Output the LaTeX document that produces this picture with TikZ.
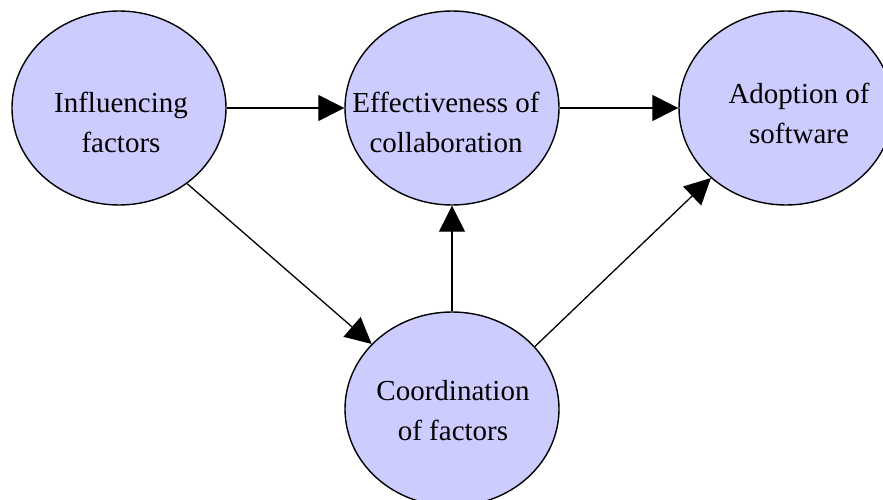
\documentclass[tikz,border=0pt]{standalone}
\usepackage{fontspec}
\setmainfont{Liberation Serif}
\usetikzlibrary{arrows.meta,shapes.geometric}
\definecolor{bubblefill}{HTML}{CCCCFF}
\tikzset{bubble/.style={ellipse,draw=black,fill=bubblefill,line width=1.4pt,minimum width=214pt,minimum height=194pt,inner sep=0pt},
label text/.style={align=center,inner sep=0pt,font=\fontsize{29}{40}\selectfont},
edge/.style={-{Triangle[length=26pt,width=26pt]},line width=1.3pt,draw=black}}

\begin{document}
\begin{tikzpicture}[x=1pt,y=-1pt]
\useasboundingbox (0,0) rectangle (883,500);
\node[bubble](infl) at (119,108){};
\node[bubble](effect) at (452,108){};
\node[bubble](adopt) at (786,108){};
\node[bubble](coord) at (452,409){};
\node[label text](infl-txt) at (121,122){Influencing\\factors};
\node[label text](effect-txt) at (446,122){Effectiveness of\\collaboration};
\node[label text](adopt-txt) at (799,113){Adoption of\\software};
\node[label text](coord-txt) at (453,411){Coordination\\of factors};
\draw[edge](infl)--(effect);\draw[edge](effect)--(adopt);
\draw[edge](coord)--(effect);
\draw[edge](infl.-48.6)--(coord.141.9);\draw[edge](coord.37.8)--(adopt.223);
\end{tikzpicture}
\end{document}
